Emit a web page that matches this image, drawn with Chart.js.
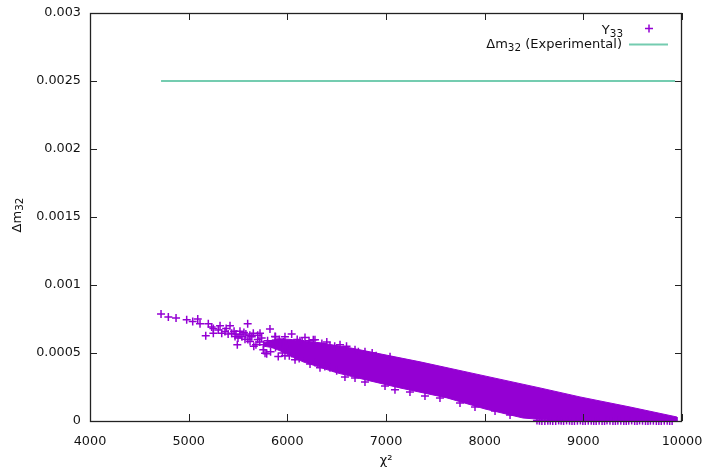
<!DOCTYPE html>
<html>
<head>
<meta charset="utf-8">
<script src="https://cdn.jsdelivr.net/npm/chart.js"></script>
<style>
  html, body { margin: 0; padding: 0; background: #fff; }
  #wrap { width: 708px; height: 472px; }
</style>
</head>
<body>
<div id="wrap"><canvas id="chart"></canvas></div>
<script>
// Axis ticks
const xTicks = [4000, 5000, 6000, 7000, 8000, 9000, 10000];
const yTicks = [0, 0.0005, 0.001, 0.0015, 0.002, 0.0025, 0.003];
const yTickLabels = ['0', '0.0005', '0.001', '0.0015', '0.002', '0.0025', '0.003'];

const seriesNames = ['Y₃₃', 'Δm₃₂ (Experimental)'];
const xTitle = 'χ²';
const yTitle = 'Δm₃₂';

// Y33 scatter points (sparse left part + ragged edges of the band)
const y33X = [4720, 4794, 4872, 4980, 5041, 5092, 5115, 5173, 5199, 5233, 5250, 5318, 5335, 5368, 5419,
  5436, 5470, 5493, 5520, 5598, 5571, 5622, 5682, 5756, 5791, 5824, 5723, 5655, 5875, 6044,
  6179, 6263, 5908, 5774, 6078,
  5250, 5300, 5380, 5400, 5460, 5500, 5540, 5560, 5600, 5640, 5700, 5720, 5760, 5800, 5850,
  5880, 5950, 6000, 5660, 5830,
  5880, 5920, 5960, 5700, 5740, 5620, 5580, 5520, 5480, 6100, 6150, 6220, 6350, 6400, 6480,
  6600, 6720, 6860, 6900, 5950, 6020, 6120, 6280, 6380, 6500,
  5976, 6078, 6230, 6331, 6432, 6584, 6686, 6787, 6990, 7091, 7243, 7395, 7547, 7750, 7902, 8105, 8257,
  5976, 6128, 6280, 6432, 6534, 6686, 6787, 7041,
  8530, 8580, 8640, 8690, 8750, 8800, 8860, 8910, 8970, 9020, 9080, 9130, 9190, 9240, 9300,
  9350, 9410, 9460, 9520, 9570, 9630, 9680, 9740, 9790, 9850, 9900,
  8555, 8610, 8665, 8720, 8775, 8830, 8885, 8940, 8995, 9050, 9105, 9160, 9215, 9270, 9325,
  9380, 9435, 9490, 9545, 9600, 9655, 9710, 9765, 9820, 9875];
const y33Y = [0.000786, 0.000764, 0.000757, 0.000744, 0.000732, 0.000750, 0.000715, 0.000627, 0.000715, 0.000691, 0.000646, 0.000700, 0.000646, 0.000658, 0.000700,
  0.000646, 0.000621, 0.000560, 0.000634, 0.000715, 0.000602, 0.000585, 0.000560, 0.000523, 0.000494, 0.000676, 0.000646, 0.000646, 0.000621, 0.000639,
  0.000614, 0.000597, 0.000474, 0.000499, 0.000450,
  0.00068, 0.00067, 0.00068, 0.00064, 0.00066, 0.00061, 0.00062, 0.00065, 0.00060, 0.00062, 0.00060, 0.00058, 0.00056, 0.00059, 0.00057,
  0.00054, 0.00056, 0.00053, 0.00055, 0.00051,
  0.00062, 0.00060, 0.00058, 0.00063, 0.00061, 0.00063, 0.00064, 0.00066, 0.00064, 0.00060, 0.00058, 0.00059, 0.00057, 0.00058, 0.00055,
  0.00055, 0.00051, 0.00050, 0.00048, 0.00050, 0.00048, 0.00046, 0.00043, 0.00040, 0.00037,
  0.000479, 0.000472, 0.000420, 0.000391, 0.000391, 0.000324, 0.000317, 0.000287, 0.000258, 0.000229, 0.000214, 0.000184, 0.000170, 0.000133, 0.000103, 0.0000737, 0.0000442,
  0.000619, 0.000590, 0.000597, 0.000553, 0.000560, 0.000523, 0.000509, 0.000472,
  0.000003, 0, 0.000002, 0, 0.000004, 0, 0.000001, 0, 0.000003, 0, 0.000002, 0, 0, 0.000003, 0,
  0.000002, 0, 0.000001, 0, 0.000003, 0, 0.000002, 0, 0, 0.000001, 0,
  0.000001, 0, 0.000002, 0, 0.000001, 0.000003, 0, 0.000001, 0, 0.000002, 0, 0.000001, 0, 0.000002, 0,
  0.000001, 0, 0.000003, 0, 0.000001, 0, 0.000002, 0, 0.000001, 0];

// Dense part of the Y33 cloud: upper and lower envelope
const bandTopX = [5760, 5900, 6027, 6331, 6635, 6939, 7345, 7953, 8561, 8966, 9473, 9949];
const bandTopY = [0.000575, 0.000605, 0.000600, 0.000575, 0.000538, 0.000494, 0.000435, 0.000339, 0.000243, 0.000177, 0.000103, 0.0000295];
const bandBottomX = [9949, 8763, 8388, 8003, 7618, 7142, 6838, 6503, 6159, 5926, 5845, 5760];
const bandBottomY = [0, 0, 0.0000221, 0.0000885, 0.000170, 0.000243, 0.000295, 0.000354, 0.000435, 0.000516, 0.000540, 0.000550];

// Experimental value
const expX = [4720, 9930];
const expY = [0.0025, 0.0025];

const purple = '#9400d3';
const teal = '#74ccb0';
const font = { family: 'DejaVu Sans', size: 12.8 };

const toPoints = (xs, ys) => xs.map((x, i) => ({ x: x, y: ys[i] }));

// split a label into normal and subscript runs (unicode subscript digits -> real subscripts)
const subDigits = '₀₁₂₃₄₅₆₇₈₉';
function splitRuns(label) {
  const runs = [];
  for (const ch of label) {
    const k = subDigits.indexOf(ch);
    const sub = k >= 0;
    const c = sub ? String(k) : ch;
    if (runs.length && runs[runs.length - 1].sub === sub) runs[runs.length - 1].text += c;
    else runs.push({ text: c, sub: sub });
  }
  return runs;
}

// draws label so that it ends at xEnd (align 'right') or is centred on it (align 'center')
function drawRich(ctx, label, xEnd, baseline, align) {
  const runs = splitRuns(label);
  runs.forEach(r => {
    ctx.font = (r.sub ? '10.4px' : '13px') + ' "DejaVu Sans"';
    r.w = ctx.measureText(r.text).width;
  });
  const total = runs.reduce((s, r) => s + r.w, 0);
  let x = align === 'center' ? xEnd - total / 2 : xEnd - total;
  ctx.textAlign = 'left';
  ctx.textBaseline = 'alphabetic';
  runs.forEach(r => {
    ctx.font = (r.sub ? '10.4px' : '13px') + ' "DejaVu Sans"';
    ctx.fillText(r.text, x, baseline + (r.sub ? 2.8 : 0));
    x += r.w;
  });
}

// gnuplot style frame, inward ticks on all four sides, y label and the key
const gnuFrame = {
  id: 'gnuFrame',
  afterDatasetsDraw(chart) {
    const { ctx, chartArea: a, scales: { x, y } } = chart;
    ctx.save();
    ctx.strokeStyle = '#222';
    ctx.lineWidth = 1;
    ctx.beginPath();
    x.ticks.forEach(t => {
      const px = Math.round(x.getPixelForValue(t.value)) + 0.5;
      ctx.moveTo(px, a.bottom); ctx.lineTo(px, a.bottom - 7);
      ctx.moveTo(px, a.top); ctx.lineTo(px, a.top + 7);
    });
    y.ticks.forEach(t => {
      const py = Math.round(y.getPixelForValue(t.value)) + 0.5;
      ctx.moveTo(a.left, py); ctx.lineTo(a.left + 7, py);
      ctx.moveTo(a.right, py); ctx.lineTo(a.right - 7, py);
    });
    ctx.stroke();
    ctx.lineWidth = 1.3;
    ctx.strokeRect(Math.round(a.left) + 0.5, Math.round(a.top) + 0.5,
      Math.round(a.width) - 1, Math.round(a.height));

    ctx.fillStyle = '#111';
    // y axis label, rotated
    ctx.save();
    ctx.translate(20.5, (a.top + a.bottom) / 2 - 2);
    ctx.rotate(-Math.PI / 2);
    drawRich(ctx, yTitle, 0, 0, 'center');
    ctx.restore();

    // key
    drawRich(ctx, seriesNames[0], 623, 34, 'right');
    drawRich(ctx, seriesNames[1], 622, 48, 'right');
    ctx.strokeStyle = purple;
    ctx.lineWidth = 1.5;
    ctx.beginPath();
    ctx.moveTo(645, 28.5); ctx.lineTo(653, 28.5);
    ctx.moveTo(649, 24.5); ctx.lineTo(649, 32.5);
    ctx.stroke();
    ctx.strokeStyle = teal;
    ctx.lineWidth = 2;
    ctx.beginPath();
    ctx.moveTo(629, 44.5); ctx.lineTo(668, 44.5);
    ctx.stroke();
    ctx.restore();
  }
};

new Chart(document.getElementById('chart'), {
  type: 'scatter',
  data: {
    datasets: [
      {
        label: seriesNames[0],
        data: toPoints(y33X, y33Y),
        pointStyle: 'cross',
        pointRadius: 4,
        pointBorderWidth: 1.5,
        borderColor: purple,
        backgroundColor: purple,
        clip: false
      },
      {
        type: 'line',
        label: seriesNames[0],
        data: toPoints(bandTopX, bandTopY).concat(toPoints(bandBottomX, bandBottomY)),
        pointRadius: 0,
        borderWidth: 1,
        borderColor: purple,
        backgroundColor: purple,
        tension: 0,
        fill: 'shape',
        clip: false
      },
      {
        type: 'line',
        label: seriesNames[1],
        data: toPoints(expX, expY),
        pointRadius: 0,
        borderWidth: 2,
        borderColor: teal,
        fill: false
      }
    ]
  },
  options: {
    responsive: true,
    maintainAspectRatio: false,
    animation: false,
    layout: { padding: { top: 13, right: 26, left: 0, bottom: 0 } },
    plugins: {
      legend: { display: false },
      tooltip: { enabled: false }
    },
    scales: {
      x: {
        type: 'linear',
        min: 4000,
        max: 10000,
        afterBuildTicks: s => { s.ticks = xTicks.map(v => ({ value: v })); },
        afterFit: s => { s.height = 51; },
        grid: { display: false, drawTicks: true, tickLength: 13 },
        border: { display: false },
        ticks: { font: font, color: '#111', padding: 0, maxRotation: 0, autoSkip: false, callback: v => String(v) },
        title: { display: true, text: xTitle, font: { family: 'DejaVu Sans', size: 13 }, color: '#111', padding: { top: 4, bottom: 4 } }
      },
      y: {
        type: 'linear',
        min: 0,
        max: 0.003,
        afterBuildTicks: s => { s.ticks = yTicks.map(v => ({ value: v })); },
        afterFit: s => { s.width = 90; },
        grid: { display: false, drawTicks: true, tickLength: 9 },
        border: { display: false },
        ticks: { font: font, color: '#111', padding: 0, callback: (v, i) => yTickLabels[i] },
        title: { display: false }
      }
    }
  },
  plugins: [gnuFrame]
});
</script>
</body>
</html>
